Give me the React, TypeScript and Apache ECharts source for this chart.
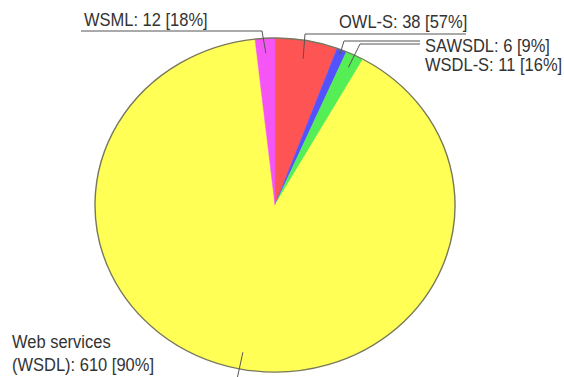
import React, { useEffect, useRef } from "react";
import * as echarts from "echarts";

// Pie data, clockwise from 12 o'clock
const names = ["OWL-S", "SAWSDL", "WSDL-S", "Web services\n(WSDL)", "WSML"];
const counts = [38, 6, 11, 610, 12];
const shares = ["57%", "9%", "16%", "90%", "18%"];

const colors = ["#ff5454", "#5252ff", "#55ee55", "#ffff55", "#f455f4"];

// Ellipse geometry of the pie
const CX = 275;
const CY = 205;
const RX = 180;
const RY = 167;

// Callout layout per slice: anchor depth inside slice, elbow, far end, text anchor
type Callout = {
  depth: number;
  elbow: number[] | null;
  end: number[] | null;
  outer?: number;
  text: number[];
};
const callouts: Callout[] = [
  { depth: 0.89, elbow: [305, 34], end: [466, 34], text: [339, 22] },
  { depth: 0.97, elbow: [344, 41], end: [420, 41], text: [425, 45.5] },
  { depth: 0.92, elbow: [360, 44], end: [420, 44], text: [425, 65] },
  { depth: 0.9, elbow: null, end: null, outer: 1.08, text: [12, 353] },
  { depth: 0.91, elbow: [262, 31], end: [81, 31], text: [84, 19.5] },
];

const FONT = "16.5px 'Liberation Sans', Arial, sans-serif";

export default function App() {
  const ref = useRef<HTMLDivElement>(null);

  useEffect(() => {
    document.body.style.margin = "0";
    if (!ref.current) return;
    const chart = echarts.init(ref.current, null, { renderer: "svg" });
    const total = counts.reduce((a, b) => a + b, 0);
    const starts: number[] = [];
    let acc = 0;
    counts.forEach((c) => {
      starts.push(acc);
      acc += c;
    });
    const ky = RY / RX;

    const renderItem = (params: any, api: any) => {
      const i = params.dataIndex;
      const v = api.value(0);
      const a0 = -Math.PI / 2 + (starts[i] / total) * Math.PI * 2;
      const a1 = a0 + (v / total) * Math.PI * 2;
      const mid = (a0 + a1) / 2;
      const c = callouts[i];
      const pt = (f: number) => [
        CX + RX * f * Math.cos(mid),
        CY + RY * f * Math.sin(mid),
      ];
      const inner = pt(c.depth);
      const points: number[][] = [inner];
      if (c.elbow) points.push(c.elbow);
      if (c.end) points.push(c.end);
      if (c.outer) points.push(pt(c.outer));

      return {
        type: "group",
        children: [
          {
            type: "sector",
            shape: { cx: CX, cy: CY, r: RX, r0: 0, startAngle: a0, endAngle: a1, clockwise: true },
            originX: CX,
            originY: CY,
            scaleY: ky,
            style: { fill: colors[i], stroke: colors[i], lineWidth: 0.5 },
          },
          {
            type: "arc",
            shape: { cx: CX, cy: CY, r: RX, startAngle: a0, endAngle: a1, clockwise: true },
            originX: CX,
            originY: CY,
            scaleY: ky,
            style: { fill: "none", stroke: "#78785f", lineWidth: 1.4 },
          },
          {
            type: "polyline",
            shape: { points },
            style: { fill: "none", stroke: "#555555", lineWidth: 1 },
          },
          {
            type: "text",
            x: c.text[0],
            y: c.text[1],
            scaleY: 1.08,
            style: {
              text: `${names[i]}: ${v} [${shares[i]}]`,
              fill: "#333333",
              font: FONT,
              lineHeight: 21.5,
              textAlign: "left",
              textVerticalAlign: "middle",
            },
          },
        ],
      };
    };

    chart.setOption({
      animation: false,
      backgroundColor: "#ffffff",
      series: [
        {
          type: "custom",
          coordinateSystem: "none",
          silent: true,
          renderItem,
          data: counts.map((c) => [c]),
        },
      ],
    });
    return () => chart.dispose();
  }, []);

  return <div ref={ref} style={{ width: 564, height: 377 }} />;
}
